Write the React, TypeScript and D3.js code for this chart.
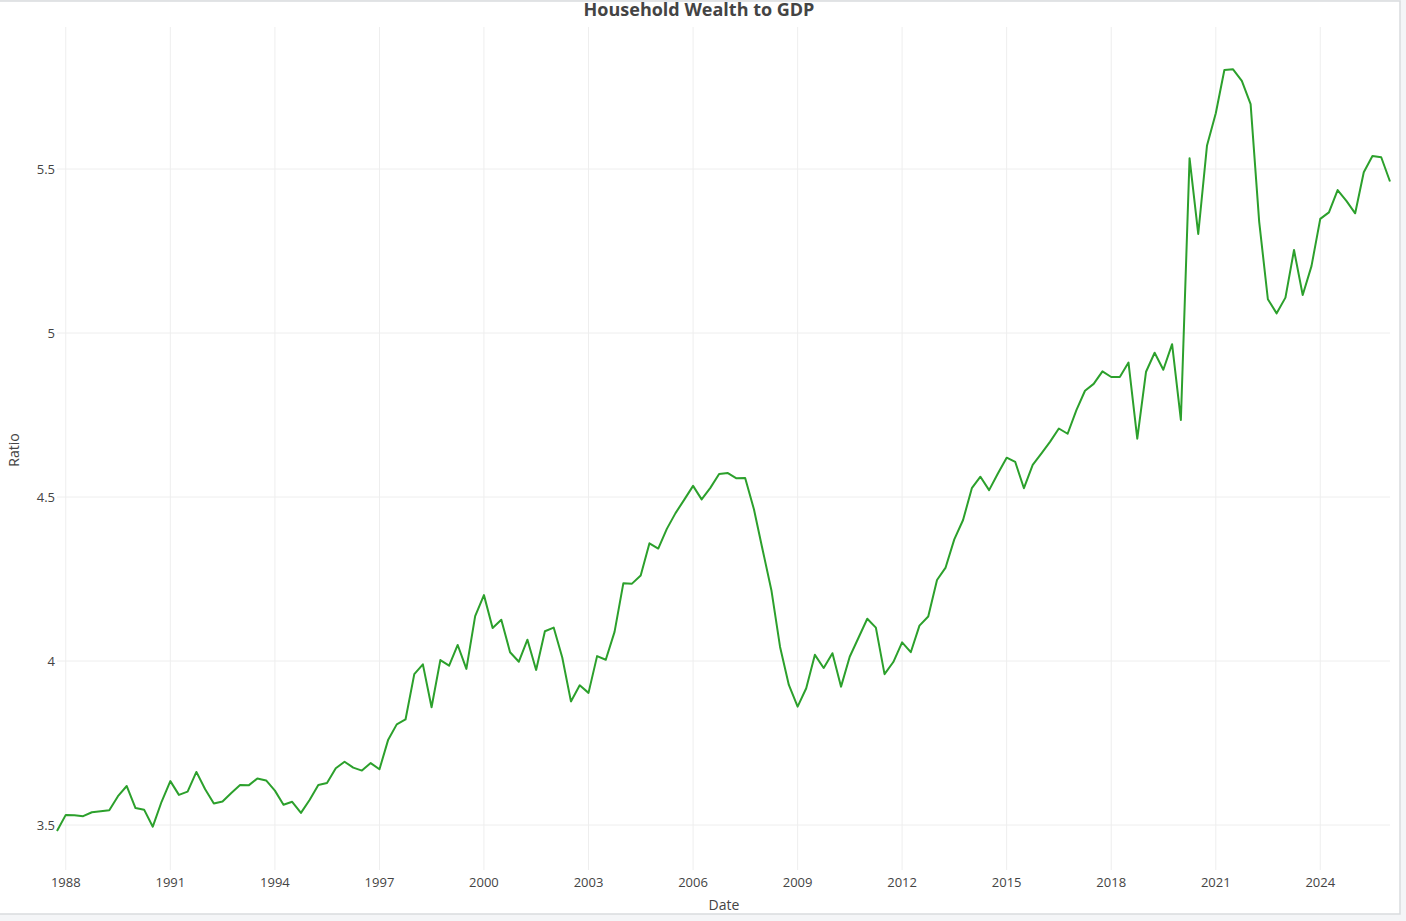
import React from 'react';
import * as d3 from 'd3';

// quarterly observations, first one is Q4 1987
const startQuarter = new Date(1987, 9, 1);

const ratio = [
  3.482, 3.531, 3.530, 3.527, 3.539, 3.542, 3.545, 3.588, 3.619, 3.552,
  3.547, 3.495, 3.571, 3.634, 3.592, 3.602, 3.662, 3.609, 3.566, 3.572,
  3.598, 3.622, 3.621, 3.642, 3.636, 3.605, 3.562, 3.571, 3.537, 3.577,
  3.622, 3.628, 3.673, 3.693, 3.675, 3.666, 3.689, 3.670, 3.759, 3.807,
  3.822, 3.960, 3.990, 3.859, 4.003, 3.986, 4.049, 3.976, 4.137, 4.201,
  4.101, 4.126, 4.027, 3.998, 4.065, 3.973, 4.091, 4.102, 4.011, 3.877,
  3.926, 3.903, 4.015, 4.004, 4.089, 4.237, 4.236, 4.261, 4.359, 4.343,
  4.403, 4.451, 4.492, 4.534, 4.493, 4.528, 4.570, 4.573, 4.557, 4.558,
  4.463, 4.338, 4.216, 4.043, 3.927, 3.861, 3.917, 4.019, 3.979, 4.024,
  3.922, 4.013, 4.071, 4.129, 4.102, 3.960, 3.997, 4.057, 4.027, 4.108,
  4.136, 4.247, 4.285, 4.371, 4.430, 4.527, 4.562, 4.521, 4.572, 4.620,
  4.607, 4.527, 4.598, 4.633, 4.669, 4.709, 4.693, 4.765, 4.824, 4.845,
  4.883, 4.866, 4.866, 4.910, 4.678, 4.882, 4.940, 4.888, 4.966, 4.735,
  5.533, 5.302, 5.572, 5.670, 5.802, 5.804, 5.769, 5.698, 5.339, 5.103,
  5.060, 5.108, 5.253, 5.116, 5.204, 5.348, 5.368, 5.436, 5.403, 5.365,
  5.490, 5.540, 5.536, 5.462,
];

const yearTicks = [1988, 1991, 1994, 1997, 2000, 2003, 2006, 2009, 2012, 2015, 2018, 2021, 2024];
const ratioTicks = [3.5, 4, 4.5, 5, 5.5];

const width = 1400;
const height = 914;
const margin = { top: 27, right: 10, bottom: 44, left: 57 };
const font = '"Open Sans", verdana, arial, sans-serif';

const App: React.FC = () => {
  const data = ratio.map((v, i) => ({ date: d3.timeMonth.offset(startQuarter, 3 * i), v }));

  const x = d3.scaleTime()
    .domain(d3.extent(data, d => d.date) as [Date, Date])
    .range([margin.left, width - margin.right]);

  const y = d3.scaleLinear()
    .domain([3.363, 5.933])
    .range([height - margin.bottom, margin.top]);

  const line = d3.line<{ date: Date; v: number }>()
    .x(d => x(d.date))
    .y(d => y(d.v));

  const plotBottom = height - margin.bottom;

  return (
    <div style={{ position: 'fixed', inset: 0, background: '#f4f5f7' }}>
      <svg width={width + 1} height={height + 1} style={{ display: 'block', fontFamily: font }}>
        <rect x={-1} y={1} width={width + 1} height={height - 1} fill="#fff" stroke="#d9dbde" strokeWidth={1.5} />

        {/* gridlines */}
        <g stroke="#eeeeee" strokeWidth={1}>
          {yearTicks.map(t => {
            const px = x(new Date(t, 0, 1));
            return <line key={t} x1={px} x2={px} y1={margin.top} y2={plotBottom} />;
          })}
          {ratioTicks.map(t => (
            <line key={t} x1={margin.left} x2={width - margin.right} y1={y(t)} y2={y(t)} />
          ))}
        </g>

        <path d={line(data) || ''} fill="none" stroke="#2ca02c" strokeWidth={2} strokeLinejoin="round" />

        {/* x ticks */}
        <g fill="#444" fontSize={13} textAnchor="middle">
          {yearTicks.map(t => (
            <text key={t} x={x(new Date(t, 0, 1))} y={plotBottom + 17}>{t}</text>
          ))}
        </g>

        {/* y ticks */}
        <g fill="#444" fontSize={13} textAnchor="end">
          {ratioTicks.map(t => (
            <text key={t} x={margin.left - 2} y={y(t)} dy="0.35em">{t}</text>
          ))}
        </g>

        <text x={724} y={910} textAnchor="middle" fontSize={14} fill="#444">Date</text>
        <text transform="translate(19,450) rotate(-90)" textAnchor="middle" fontSize={14} fill="#444">Ratio</text>

        <text x={699} y={16} textAnchor="middle" fontSize={18} fontWeight="bold" fill="#444">Household Wealth to GDP</text>
      </svg>
    </div>
  );
};

export default App;
